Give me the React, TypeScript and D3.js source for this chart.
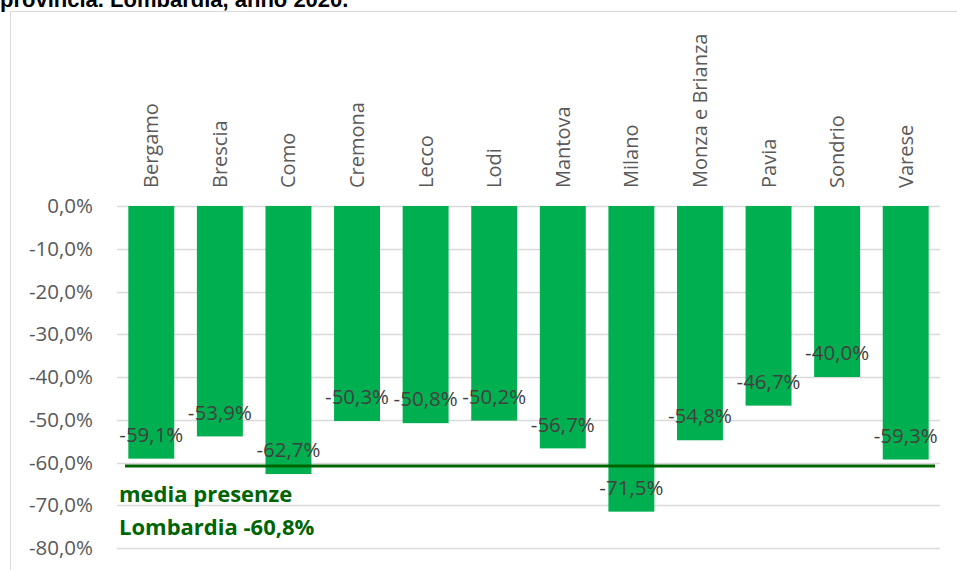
import { useEffect, useRef } from "react"
import * as d3 from "d3"

const provinces = [
  "Bergamo",
  "Brescia",
  "Como",
  "Cremona",
  "Lecco",
  "Lodi",
  "Mantova",
  "Milano",
  "Monza e Brianza",
  "Pavia",
  "Sondrio",
  "Varese",
]
const changes = [-59.1, -53.9, -62.7, -50.3, -50.8, -50.2, -56.7, -71.5, -54.8, -46.7, -40.0, -59.3]
const yTicks = [0, -10, -20, -30, -40, -50, -60, -70, -80]
const lombardiaMean = -60.8
const meanLabel = ["media presenze", "Lombardia -60,8%"]
const titleText = "provincia. Lombardia, anno 2020."

const fmt = (v: number) => v.toFixed(1).replace(".", ",") + "%"

export default function App() {
  const svgRef = useRef<SVGSVGElement>(null)

  useEffect(() => {
    if (!svgRef.current) return
    const svg = d3.select(svgRef.current)
    svg.selectAll("*").remove()

    const width = 957
    const height = 570
    const left = 117
    const right = 940
    const top = 206
    const bottom = 548

    svg.append("rect").attr("width", width).attr("height", height).attr("fill", "#fff")

    // Title (cut off at the top, like the source)
    svg
      .append("text")
      .attr("x", 0)
      .attr("y", 7)
      .text(titleText)
      .style("font-family", "'Liberation Sans', Arial, sans-serif")
      .style("font-weight", "bold")
      .style("font-size", "22px")
      .attr("fill", "#000")

    // Chart frame
    svg
      .append("rect")
      .attr("x", 10.5)
      .attr("y", 11.5)
      .attr("width", 1000)
      .attr("height", 700)
      .attr("fill", "none")
      .attr("stroke", "#d9d9d9")

    const x = d3.scaleBand().domain(provinces).range([left, right]).paddingInner(0.33).paddingOuter(0.165)
    const y = d3.scaleLinear().domain([0, -80]).range([top, bottom])

    // Gridlines
    svg
      .append("g")
      .selectAll("line")
      .data(yTicks)
      .enter()
      .append("line")
      .attr("x1", left)
      .attr("x2", right)
      .attr("y1", (d) => Math.round(y(d)) + 0.5)
      .attr("y2", (d) => Math.round(y(d)) + 0.5)
      .attr("stroke", "#d9d9d9")
      .attr("stroke-width", 1.5)

    // Y tick labels
    svg
      .append("g")
      .selectAll("text")
      .data(yTicks)
      .enter()
      .append("text")
      .attr("x", 93)
      .attr("y", (d) => y(d))
      .attr("dy", "0.35em")
      .attr("text-anchor", "end")
      .text((d) => fmt(d))
      .style("font-family", "'Open Sans', sans-serif")
      .style("font-size", "20.5px")
      .attr("fill", "#595959")

    // Bars
    svg
      .append("g")
      .selectAll("rect")
      .data(changes)
      .enter()
      .append("rect")
      .attr("x", (_, i) => x(provinces[i])!)
      .attr("y", y(0))
      .attr("width", x.bandwidth())
      .attr("height", (d) => y(d) - y(0))
      .attr("fill", "#00b050")

    // Category labels
    svg
      .append("g")
      .selectAll("text")
      .data(provinces)
      .enter()
      .append("text")
      .attr("transform", (d) => `translate(${x(d)! + x.bandwidth() / 2},188) rotate(-90)`)
      .attr("dy", "0.35em")
      .text((d) => d)
      .style("font-family", "'Open Sans', sans-serif")
      .style("font-size", "20px")
      .attr("fill", "#595959")

    // Mean line
    svg
      .append("line")
      .attr("x1", left + 8)
      .attr("x2", right - 5)
      .attr("y1", y(lombardiaMean))
      .attr("y2", y(lombardiaMean))
      .attr("stroke", "#006400")
      .attr("stroke-width", 3)

    // Data labels
    svg
      .append("g")
      .selectAll("text")
      .data(changes)
      .enter()
      .append("text")
      .attr("x", (_, i) => x(provinces[i])! + x.bandwidth() / 2)
      .attr("y", (d) => y(d) - 24)
      .attr("dy", "0.35em")
      .attr("text-anchor", "middle")
      .text((d) => fmt(d))
      .style("font-family", "'Open Sans', sans-serif")
      .style("font-size", "20.5px")
      .attr("fill", "#404040")

    // Mean annotation
    svg
      .append("g")
      .selectAll("text")
      .data(meanLabel)
      .enter()
      .append("text")
      .attr("x", 119)
      .attr("y", (_, i) => 502 + i * 33)
      .text((d) => d)
      .style("font-family", "'Open Sans', sans-serif")
      .style("font-weight", "bold")
      .style("font-size", "22px")
      .attr("fill", "#006400")
  }, [])

  return (
    <svg
      ref={svgRef}
      width={957}
      height={570}
      style={{ position: "absolute", left: 0, top: 0, display: "block" }}
    ></svg>
  )
}
